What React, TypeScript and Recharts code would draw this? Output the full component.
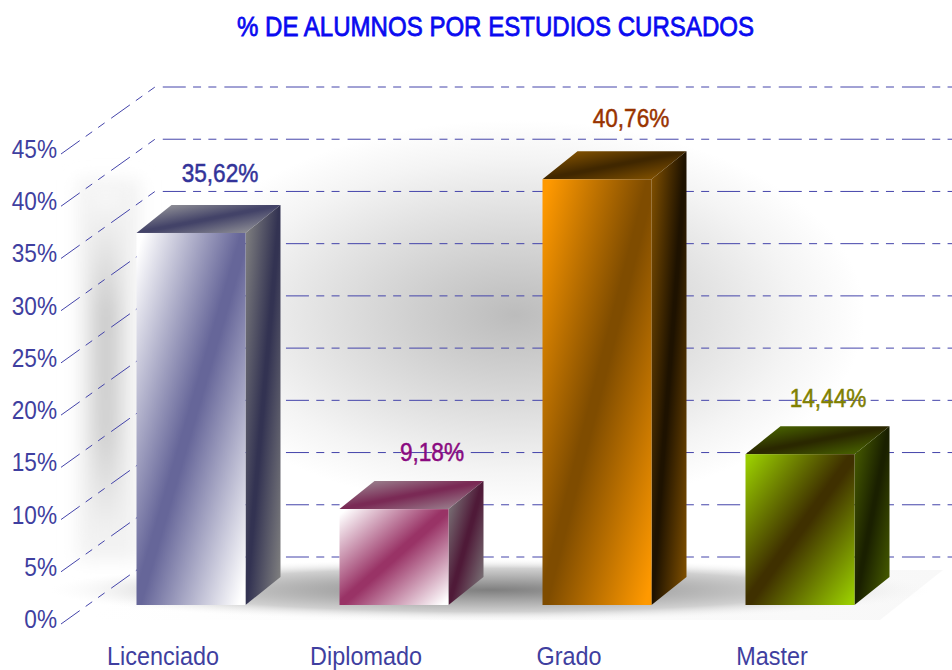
import React from 'react';
import { BarChart, Bar, XAxis, YAxis, CartesianGrid, LabelList } from 'recharts';

const categories = ['Licenciado', 'Diplomado', 'Grado', 'Master'];
const values = [35.62, 9.18, 40.76, 14.44];
const yTicks = [0, 5, 10, 15, 20, 25, 30, 35, 40, 45];

const data = categories.map((name, i) => ({ name, value: values[i] }));

const FONT = '"Liberation Sans", Arial, sans-serif';
const AXIS_COLOR = '#3f3fa0';
const LINE_COLOR = '#4444aa';
const DEPTH_X = 35;
const DEPTH_Y = 28;

// front, top and side face colours of each bar: [edge, centre]
const faces = [
  { front: ['#ffffff', '#666699'], top: ['#a0a0a0', '#434368'], side: ['#808080', '#333352'] },
  { front: ['#ffffff', '#993366'], top: ['#a09098', '#7a2a55'], side: ['#808080', '#4f1a38'] },
  { front: ['#ff9900', '#7f4c00'], top: ['#8f5a00', '#402700'], side: ['#7f4f00', '#1e1200'] },
  { front: ['#99cc00', '#3f3000'], top: ['#4f7000', '#2a2800'], side: ['#4a6000', '#1a2000'] },
];
const labelColors = ['#333399', '#8a0a80', '#993300', '#808000'];
const labelShift = [
  { dx: 29, dy: -51 },
  { dx: 38, dy: -48 },
  { dx: 34, dy: -52 },
  { dx: 28, dy: -47 },
];
const categoryShift = -28;

const Gradient = ({ id, stops }: { id: string; stops: string[] }) => (
  <linearGradient id={id} x1="0" y1="0" x2="1" y2="1">
    <stop offset="3%" stopColor={stops[0]} />
    <stop offset="48%" stopColor={stops[1]} />
    <stop offset="52%" stopColor={stops[1]} />
    <stop offset="97%" stopColor={stops[0]} />
  </linearGradient>
);

const Bar3D = (props: any) => {
  const { x, y, width, height, index } = props;
  const r = x + width;
  const b = y + height;
  return (
    <g>
      <polygon
        points={`${x},${y} ${x + DEPTH_X},${y - DEPTH_Y} ${r + DEPTH_X},${y - DEPTH_Y} ${r},${y}`}
        fill={`url(#top${index})`}
      />
      <polygon
        points={`${r},${y} ${r + DEPTH_X},${y - DEPTH_Y} ${r + DEPTH_X},${b - DEPTH_Y} ${r},${b}`}
        fill={`url(#side${index})`}
      />
      <rect x={x} y={y} width={width} height={height} fill={`url(#front${index})`} />
    </g>
  );
};

// one dashed line per tick: up the left wall, then along the back wall
const WallLine = (props: any) => {
  const y = props.y1;
  return (
    <path
      key={props.key ?? y}
      d={`M61 ${y + 19} L155 ${y - 48} L952 ${y - 48}`}
      fill="none"
      stroke={LINE_COLOR}
      strokeWidth={1}
      strokeDasharray="23 7.3 8 7.3 8 8"
    />
  );
};

const YTick = ({ y, payload }: any) => (
  <text
    transform={`translate(57 ${y + 23}) scale(0.87 1)`}
    textAnchor="end"
    fontFamily={FONT}
    fontSize={26}
    fill={AXIS_COLOR}
  >
    {payload.value}%
  </text>
);

const XTick = ({ x, payload }: any) => (
  <text
    transform={`translate(${x + categoryShift} 665) scale(0.9 1)`}
    textAnchor="middle"
    fontFamily={FONT}
    fontSize={26}
    fill={AXIS_COLOR}
  >
    {payload.value}
  </text>
);

const ValueLabel = (props: any) => {
  const { x, y, width, index, value } = props;
  const s = labelShift[index];
  return (
    <text
      transform={`translate(${x + width / 2 + s.dx} ${y + s.dy}) scale(0.87 1)`}
      textAnchor="middle"
      fontFamily={FONT}
      fontSize={26}
      fill={labelColors[index]}
      stroke={labelColors[index]}
      strokeWidth={0.5}
    >
      {value.toFixed(2).replace('.', ',')}%
    </text>
  );
};

// soft shadows of the walls and floor, sits behind the chart
const Backdrop = () => (
  <svg width={952} height={670} style={{ position: 'absolute', left: 0, top: 0 }}>
    <defs>
      <filter id="softer" x="-60%" y="-30%" width="220%" height="160%">
        <feGaussianBlur stdDeviation="9" />
      </filter>
      <radialGradient id="wall">
        <stop offset="0%" stopColor="#bcbcbc" />
        <stop offset="28%" stopColor="#cfcfcf" />
        <stop offset="55%" stopColor="#e2e2e2" />
        <stop offset="80%" stopColor="#f4f4f4" />
        <stop offset="100%" stopColor="#ffffff" />
      </radialGradient>
      <radialGradient id="floor">
        <stop offset="0%" stopColor="#7f7f7f" />
        <stop offset="35%" stopColor="#a8a8a8" />
        <stop offset="70%" stopColor="#d0d0d0" />
        <stop offset="100%" stopColor="#f6f6f6" stopOpacity="0" />
      </radialGradient>
      <linearGradient id="leftWall" x1="0" y1="0" x2="0" y2="1">
        <stop offset="0%" stopColor="#fbfbfb" />
        <stop offset="35%" stopColor="#cccccc" />
        <stop offset="70%" stopColor="#d0d0d0" />
        <stop offset="100%" stopColor="#f4f4f4" />
      </linearGradient>
      <linearGradient id="floorEdge" x1="0" y1="0" x2="1" y2="0">
        <stop offset="0%" stopColor="#ffffff" />
        <stop offset="50%" stopColor="#fbfbfb" />
        <stop offset="100%" stopColor="#f8f8f8" />
      </linearGradient>
    </defs>
    <ellipse cx={515} cy={315} rx={350} ry={195} fill="url(#wall)" />
    <rect x={78} y={180} width={62} height={380} fill="#f2f2f2" filter="url(#softer)" />
    <rect x={92} y={190} width={28} height={350} fill="url(#leftWall)" filter="url(#softer)" />
    <polygon points="155,570 943,570 880,620 90,620" fill="url(#floorEdge)" />
    <ellipse cx={490} cy={590} rx={440} ry={31} fill="url(#floor)" />
  </svg>
);

export default function App() {
  return (
    <div style={{ position: 'absolute', left: 0, top: 0, width: 952, height: 670, background: '#fff', overflow: 'hidden' }}>
      <Backdrop />
      <div style={{ position: 'absolute', left: 0, top: 0 }}>
        <BarChart
          width={952}
          height={670}
          data={data}
          margin={{ top: 135, right: 50.5, bottom: 25, left: 29.5 }}
          barSize={109}
        >
          <defs>
            {faces.map((f, i) => (
              <React.Fragment key={i}>
                <Gradient id={`front${i}`} stops={f.front} />
                <Gradient id={`top${i}`} stops={f.top} />
                <Gradient id={`side${i}`} stops={f.side} />
              </React.Fragment>
            ))}
          </defs>
          <text
            x={495.5}
            y={36}
            textAnchor="middle"
            fontFamily={FONT}
            fontSize={28}
            fill="#0a0af0"
            stroke="#0a0af0"
            strokeWidth={0.8}
            textLength={517}
            lengthAdjust="spacingAndGlyphs"
          >
            % DE ALUMNOS POR ESTUDIOS CURSADOS
          </text>
          <CartesianGrid vertical={false} horizontal={WallLine} syncWithTicks />
          <XAxis dataKey="name" axisLine={false} tickLine={false} height={40} tick={XTick} interval={0} />
          <YAxis
            domain={[0, 45]}
            ticks={yTicks}
            width={60}
            axisLine={false}
            tickLine={false}
            tick={YTick}
            interval={0}
          />
          <Bar dataKey="value" shape={Bar3D} isAnimationActive={false}>
            <LabelList dataKey="value" content={ValueLabel} />
          </Bar>
        </BarChart>
      </div>
    </div>
  );
}
